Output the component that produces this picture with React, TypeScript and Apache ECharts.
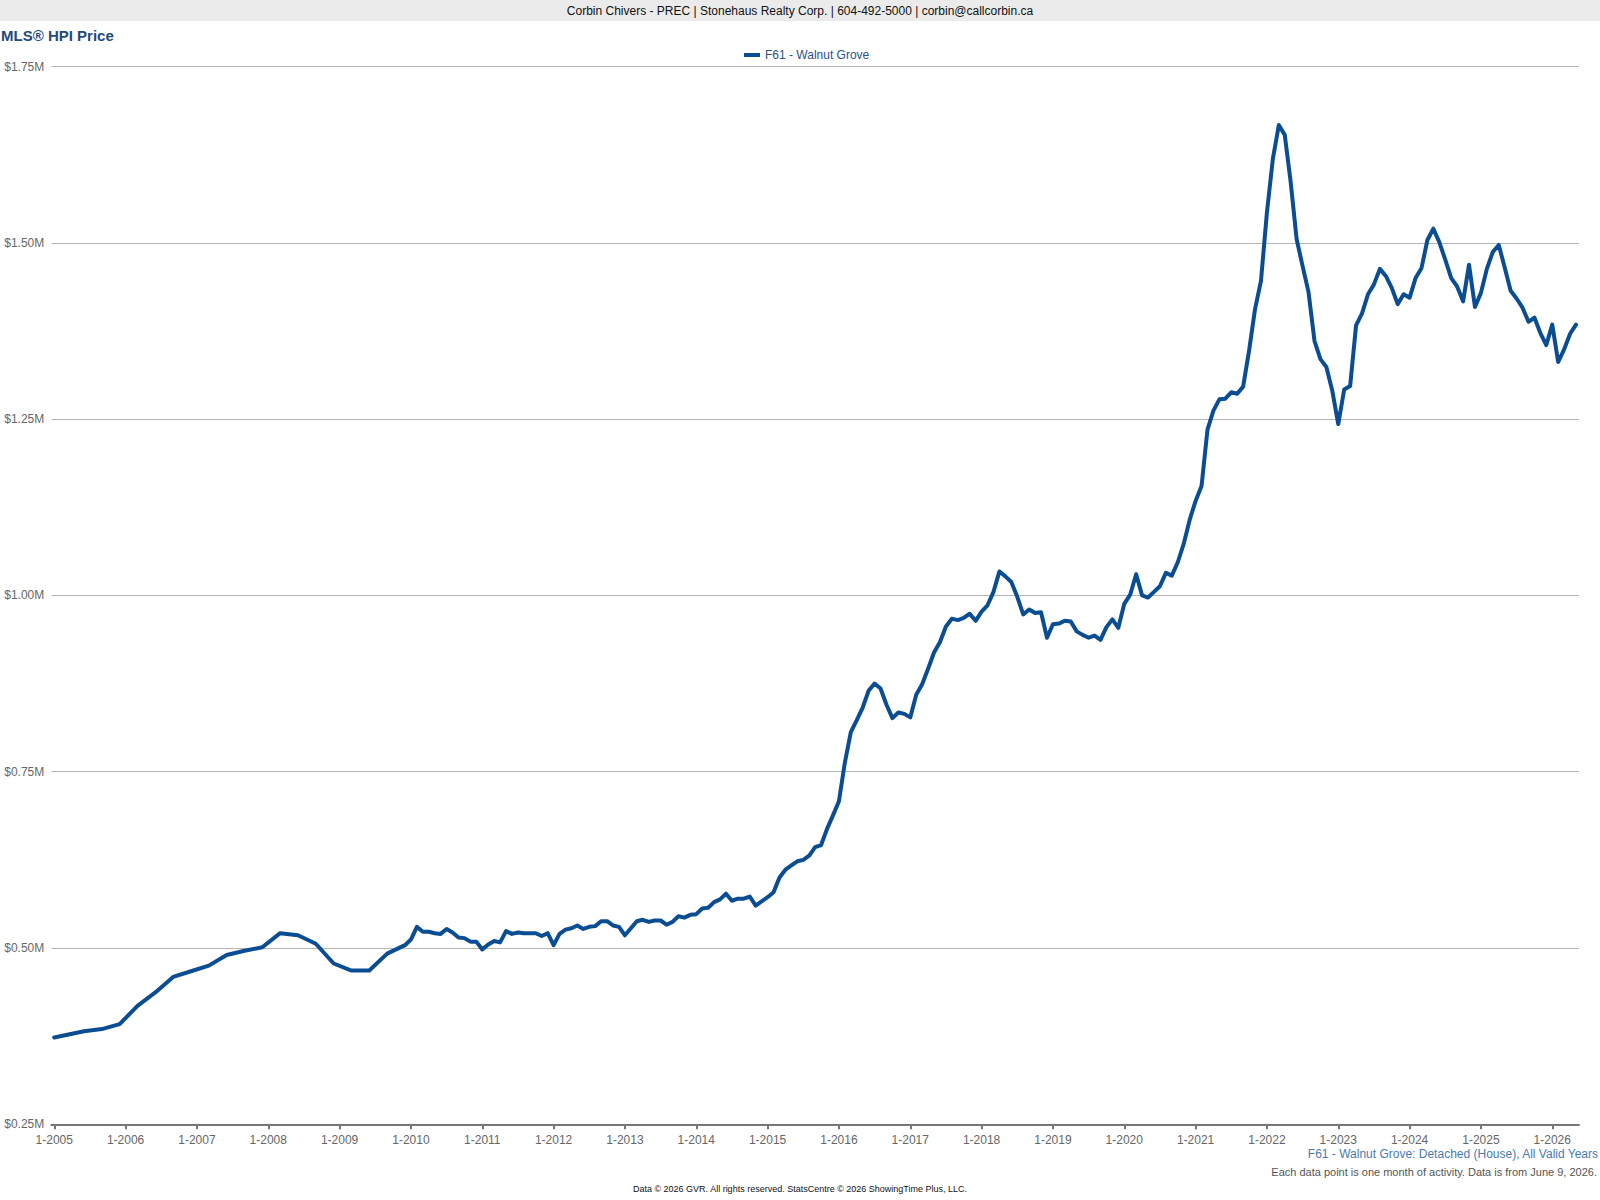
import React, { useEffect, useRef } from "react";
import * as echarts from "echarts";

// ---- Data ----
const START_YEAR = 2005;
const TOTAL_MONTHS = 257; // Jan 2005 .. May 2026

// Early period: quarterly readings (month index from Jan 2005)
const earlyMonthIdx = [0, 5, 8, 11, 14, 17, 20, 23, 26, 29, 32, 35, 38, 41, 44, 47, 50, 53, 56, 59];
const earlyValues = [
  0.373, 0.382, 0.385, 0.392, 0.418, 0.437, 0.459, 0.467, 0.475, 0.49, 0.496, 0.501, 0.521, 0.518, 0.506,
  0.478, 0.468, 0.468, 0.492, 0.504,
];

// Monthly values (in $M) from Jan 2010 onward
const monthlyStartIdx = 60;
const monthlyValues = [
  // 2010
  0.512, 0.53, 0.523, 0.523, 0.521, 0.52, 0.527, 0.522, 0.515, 0.514, 0.509, 0.509,
  // 2011
  0.498, 0.505, 0.51, 0.508, 0.524, 0.52, 0.522, 0.521, 0.521, 0.521, 0.517, 0.521,
  // 2012
  0.504, 0.52, 0.526, 0.528, 0.532, 0.527, 0.53, 0.531, 0.538, 0.538, 0.532, 0.53,
  // 2013
  0.518, 0.528, 0.538, 0.54, 0.537, 0.539, 0.539, 0.533, 0.537, 0.545, 0.543, 0.547,
  // 2014
  0.548, 0.556, 0.557, 0.565, 0.569, 0.577, 0.567, 0.57, 0.57, 0.573, 0.56, 0.566,
  // 2015
  0.572, 0.579, 0.6, 0.611, 0.617, 0.623, 0.625, 0.631, 0.643, 0.646, 0.669, 0.688,
  // 2016
  0.708, 0.763, 0.806, 0.823, 0.841, 0.865, 0.875, 0.868, 0.845, 0.826, 0.834, 0.832,
  // 2017
  0.827, 0.859, 0.874, 0.896, 0.919, 0.934, 0.956, 0.967, 0.965, 0.968, 0.974, 0.964,
  // 2018
  0.977, 0.986, 1.005, 1.034, 1.027, 1.019, 0.998, 0.973, 0.98, 0.975, 0.976, 0.94,
  // 2019
  0.959, 0.96, 0.964, 0.963, 0.949, 0.944, 0.94, 0.943, 0.937, 0.955, 0.966, 0.954,
  // 2020
  0.988, 1.001, 1.03, 1.0, 0.997, 1.005, 1.013, 1.032, 1.028, 1.047, 1.073, 1.107,
  // 2021
  1.134, 1.155, 1.235, 1.262, 1.278, 1.279, 1.288, 1.286, 1.296, 1.347, 1.406, 1.446,
  // 2022
  1.543, 1.619, 1.667, 1.653, 1.586, 1.505, 1.467, 1.43, 1.361, 1.335, 1.324, 1.29,
  // 2023
  1.243, 1.292, 1.297, 1.383, 1.4, 1.427, 1.441, 1.463, 1.453, 1.436, 1.413, 1.427,
  // 2024
  1.422, 1.45, 1.464, 1.504, 1.52, 1.501, 1.476, 1.45, 1.438, 1.417, 1.469, 1.409,
  // 2025
  1.429, 1.463, 1.487, 1.497, 1.465, 1.432, 1.421, 1.408, 1.388, 1.394, 1.372, 1.355,
  // 2026
  1.384, 1.331, 1.349, 1.371, 1.384,
];

const yTicks = [0.25, 0.5, 0.75, 1.0, 1.25, 1.5, 1.75];

const headerText = "Corbin Chivers - PREC | Stonehaus Realty Corp. | 604-492-5000 | corbin@callcorbin.ca";
const titleText = "MLS® HPI Price";
const seriesName = "F61 - Walnut Grove";
const sourceText = "F61 - Walnut Grove: Detached (House), All Valid Years";
const noteText = "Each data point is one month of activity. Data is from June 9, 2026.";
const footerText = "Data © 2026 GVR. All rights reserved. StatsCentre © 2026 ShowingTime Plus, LLC.";

const FONT = "Arial, 'Liberation Sans', Helvetica, sans-serif";

export default function App() {
  const ref = useRef<HTMLDivElement>(null);

  useEffect(() => {
    document.body.style.margin = "0";
    if (!ref.current) return;
    const chart = echarts.init(ref.current, null, { renderer: "svg" });

    const categories: string[] = [];
    for (let i = 0; i < TOTAL_MONTHS; i++) {
      categories.push(`${(i % 12) + 1}-${START_YEAR + Math.floor(i / 12)}`);
    }
    const seriesData: (number | null)[] = new Array(TOTAL_MONTHS).fill(null);
    earlyMonthIdx.forEach((m, k) => {
      seriesData[m] = earlyValues[k];
    });
    monthlyValues.forEach((v, k) => {
      seriesData[monthlyStartIdx + k] = v;
    });

    const isJan = (i: number) => i % 12 === 0;

    chart.setOption({
      animation: false,
      backgroundColor: "#ffffff",
      textStyle: { fontFamily: FONT },
      grid: {
        left: 51.3,
        right: 21,
        top: 66.5,
        bottom: 75.7,
        containLabel: false,
        outerBoundsMode: "none",
      },
      legend: {
        show: true,
        left: 739,
        top: 44,
        icon: "rect",
        itemWidth: 16,
        itemHeight: 4,
        itemGap: 5,
        textStyle: { color: "#2b5387", fontSize: 12, fontFamily: FONT },
        data: [seriesName],
      },
      xAxis: {
        type: "category",
        data: categories,
        boundaryGap: true,
        axisLine: { show: true, lineStyle: { color: "#777777", width: 2 } },
        axisTick: {
          show: true,
          alignWithLabel: true,
          interval: (i: number) => isJan(i),
          length: 5,
          lineStyle: { color: "#777777", width: 2 },
        },
        axisLabel: {
          interval: (i: number) => isJan(i),
          color: "#666666",
          fontSize: 12,
          fontFamily: FONT,
          margin: 10,
        },
        splitLine: { show: false },
      },
      yAxis: {
        type: "value",
        min: yTicks[0],
        max: yTicks[yTicks.length - 1],
        interval: 0.25,
        axisLine: { show: false },
        axisTick: { show: false },
        axisLabel: {
          color: "#666666",
          fontSize: 12,
          fontFamily: FONT,
          margin: 7,
          padding: [6, 0, 0, 0],
          formatter: (v: number) => `$${v.toFixed(2)}M`,
        },
        splitLine: { show: true, lineStyle: { color: "#b5b5b5", width: 1 } },
      },
      series: [
        {
          name: seriesName,
          type: "line",
          data: seriesData,
          connectNulls: true,
          showSymbol: false,
          symbol: "none",
          smooth: false,
          lineStyle: { color: "#0b4d93", width: 4, join: "round", cap: "round" },
          itemStyle: { color: "#0b4d93" },
        },
      ],
      graphic: [
        {
          type: "rect",
          left: 0,
          top: 0,
          shape: { x: 0, y: 0, width: 1600, height: 21 },
          style: { fill: "#ebebeb" },
          silent: true,
        },
        {
          type: "text",
          x: 800,
          y: 11,
          style: {
            text: headerText,
            fill: "#111111",
            fontSize: 12,
            fontFamily: FONT,
            align: "center",
            verticalAlign: "middle",
          },
        },
        {
          type: "text",
          x: 1,
          y: 35,
          style: {
            text: titleText,
            fill: "#1f4a7e",
            fontSize: 15,
            fontWeight: "bold",
            fontFamily: FONT,
            align: "left",
            verticalAlign: "middle",
          },
        },
        {
          type: "text",
          x: 1598,
          y: 1154,
          style: {
            text: sourceText,
            fill: "#4a7ab0",
            fontSize: 12,
            fontFamily: FONT,
            align: "right",
            verticalAlign: "middle",
          },
        },
        {
          type: "text",
          x: 1597,
          y: 1172,
          style: {
            text: noteText,
            fill: "#555555",
            fontSize: 11,
            fontFamily: FONT,
            align: "right",
            verticalAlign: "middle",
          },
        },
        {
          type: "text",
          x: 800,
          y: 1189,
          style: {
            text: footerText,
            fill: "#111111",
            fontSize: 9,
            fontFamily: FONT,
            align: "center",
            verticalAlign: "middle",
          },
        },
      ],
    });

    return () => {
      chart.dispose();
    };
  }, []);

  return <div ref={ref} style={{ width: 1600, height: 1200 }} />;
}
